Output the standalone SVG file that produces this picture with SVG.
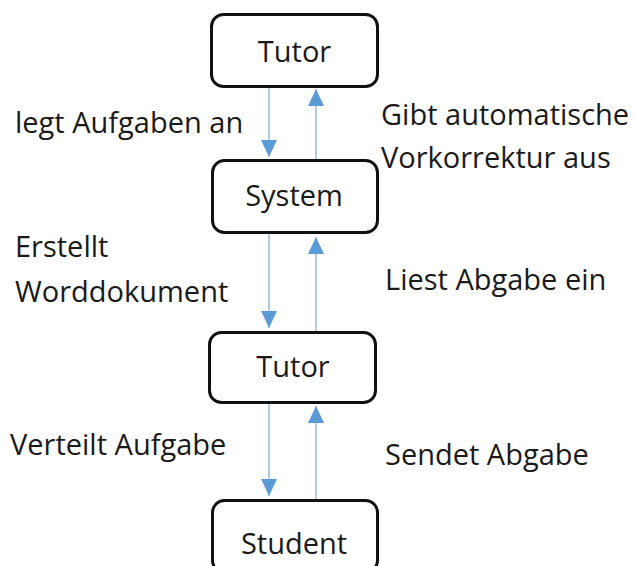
<svg xmlns="http://www.w3.org/2000/svg" width="636" height="566" viewBox="0 0 636 566">
<style>
.box{fill:#fff;stroke:#111;stroke-width:3}
.t{font-family:"Open Sans","Noto Sans",sans-serif;font-size:29px;fill:#1a1a1a}
.c{text-anchor:middle}
.ln{stroke:#9dbfe3;stroke-width:1.6;fill:none}
</style>
<defs>
<marker id="ah" viewBox="0 0 17 16" refX="17" refY="8" markerWidth="17" markerHeight="16" markerUnits="userSpaceOnUse" orient="auto">
<path d="M0,0 L17,8 L0,16 Z" fill="#5b9bd5"/>
</marker>
</defs>
<rect width="636" height="566" fill="#fff"/>
<g id="connectors">
<line class="ln" x1="269" y1="88" x2="269" y2="157" marker-end="url(#ah)"/>
<line class="ln" x1="316" y1="160" x2="316" y2="89" marker-end="url(#ah)"/>
<line class="ln" x1="269" y1="234" x2="269" y2="328" marker-end="url(#ah)"/>
<line class="ln" x1="316" y1="332" x2="316" y2="237" marker-end="url(#ah)"/>
<line class="ln" x1="269" y1="404" x2="269" y2="496" marker-end="url(#ah)"/>
<line class="ln" x1="316" y1="500" x2="316" y2="406" marker-end="url(#ah)"/>
</g>
<g id="node-tutor1">
<rect class="box" x="211.5" y="14.5" width="166" height="72" rx="12"/>
<text class="t c" x="294.5" y="62">Tutor</text>
</g>
<g id="node-system">
<rect class="box" x="212.5" y="160.5" width="165" height="72" rx="12"/>
<text class="t c" x="294" y="206">System</text>
</g>
<g id="node-tutor2">
<rect class="box" x="209.5" y="332.5" width="166" height="70" rx="12"/>
<text class="t c" x="293" y="377">Tutor</text>
</g>
<g id="node-student">
<rect class="box" x="212.5" y="500.5" width="165" height="72" rx="12"/>
<text class="t c" x="294" y="554">Student</text>
</g>
<g id="labels">
<text class="t" x="15" y="133">legt Aufgaben an</text>
<text class="t" x="381" y="125">Gibt automatische</text>
<text class="t" x="381" y="168">Vorkorrektur aus</text>
<text class="t" x="15" y="257">Erstellt</text>
<text class="t" x="15" y="302">Worddokument</text>
<text class="t" x="385" y="290">Liest Abgabe ein</text>
<text class="t" x="10" y="455">Verteilt Aufgabe</text>
<text class="t" x="385" y="465">Sendet Abgabe</text>
</g>
</svg>
